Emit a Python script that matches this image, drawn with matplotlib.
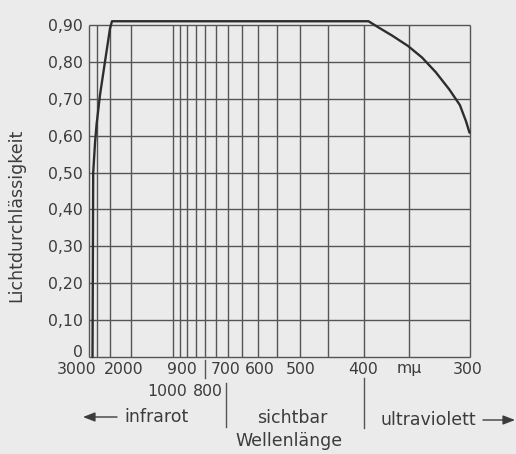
import matplotlib
matplotlib.use("Agg")
import matplotlib.pyplot as plt
from matplotlib.patches import FancyArrowPatch
from matplotlib.transforms import blended_transform_factory

# Wellenlaenge in m-mu, Lichtdurchlaessigkeit
wavelength = [2740, 2700, 2600, 2520, 2360, 2160, 1990, 1930,
              394, 382, 367, 351, 338, 326, 315, 307, 302.5, 300]
transmission = [0.0, 0.50, 0.58, 0.63, 0.71, 0.80, 0.89, 0.91,
                0.91, 0.893, 0.871, 0.843, 0.812, 0.772, 0.725, 0.683, 0.639, 0.608]

grid_wavelengths = [3000, 2500, 2000, 1500, 1000, 950, 900, 850, 800, 750,
                    700, 650, 600, 550, 500, 450, 400, 350, 300]
y_ticks = [0, 0.1, 0.2, 0.3, 0.4, 0.5, 0.6, 0.7, 0.8, 0.9]
y_labels = ["0", "0,10", "0,20", "0,30", "0,40", "0,50", "0,60", "0,70", "0,80", "0,90"]

# x tick labels: (value, text, row)
x_labels = [(3000, "3000", 1), (2000, "2000", 1), (1000, "1000", 2), (900, "900", 1),
            (800, "800", 2), (700, "700", 1), (600, "600", 1), (500, "500", 1),
            (400, "400", 1), (350, "m\u03bc", 1), (300, "300", 1)]
# horizontal nudges (pixels), the original sets the labels loosely
label_shift = {3000: -12, 2000: 14, 1000: -6, 900: -5, 800: 3, 700: -2,
               600: 2, 400: -1, 300: -2}

W, H = 516, 454
bg = "#ebebeb"
ink = "#3c3c3c"
line_col = "#555555"


def inv(lam):
    # the chart's axis is linear in 1/wavelength
    return 1000.0 / lam


fig = plt.figure(figsize=(W / 100, H / 100), dpi=100, facecolor=bg)
ax = fig.add_axes([88.5 / W, (H - 357) / H, 381 / W, 337.6 / H], facecolor=bg)
ax.set_xlim(inv(3000), inv(300))
ax.set_ylim(0, 0.915)
for s in ax.spines.values():
    s.set_visible(False)

# grid
ax.vlines([inv(w) for w in grid_wavelengths], 0, 0.9, color=line_col, lw=1.0, clip_on=False)
ax.hlines(y_ticks, inv(3000), inv(300), color=line_col, lw=1.0, clip_on=False)

# curve
ax.plot([inv(w) for w in wavelength], transmission, color="#2e2e2e", lw=1.7,
        solid_joinstyle="round", solid_capstyle="round", clip_on=False)

# y axis
ax.set_yticks(y_ticks)
ax.set_yticklabels(y_labels, fontsize=11.3, color=ink)
ax.tick_params(axis="y", length=0, pad=4)
ax.get_yticklabels()[0].set_verticalalignment("baseline")
ax.set_xticks([])

# x tick labels, placed in pixels below the axis
row_y = {1: 369, 2: 392}
for val, txt, row in x_labels:
    px = ax.transData.transform((inv(val), 0))[0] + label_shift.get(val, 0)
    fig.text(px / W, 1 - row_y[row] / H, txt, ha="center", va="center",
             fontsize=11.3, color=ink)

# small marks and dividers (x in data, y in inches from the bottom)
trans = blended_transform_factory(ax.transData, fig.dpi_scale_trans)
for lam, y0, y1 in [(800, 360, 378), (705, 383, 427), (400, 378, 428)]:
    ax.plot([inv(lam), inv(lam)], [(H - y0) / 100, (H - y1) / 100], transform=trans,
            color=line_col, lw=1.0, clip_on=False)

# range names
fig.text(157 / W, 1 - 417 / H, "infrarot", ha="center", va="center", fontsize=12.5, color=ink)
fig.text(292 / W, 1 - 418 / H, "sichtbar", ha="center", va="center", fontsize=12.5, color=ink)
fig.text(428 / W, 1 - 420 / H, "ultraviolett", ha="center", va="center", fontsize=12.5, color=ink)
fig.text(289 / W, 1 - 441 / H, "Wellenlänge", ha="center", va="center", fontsize=12.5, color=ink)
fig.text(16 / W, 1 - 215 / H, "Lichtdurchlässigkeit", ha="center", va="center",
         rotation=90, fontsize=12.5, color=ink)

arrow = dict(arrowstyle="-|>,head_length=0.9,head_width=0.35", mutation_scale=8,
             color=ink, lw=1.0, shrinkA=0, shrinkB=0, transform=fig.transFigure)
fig.add_artist(FancyArrowPatch((117 / W, 1 - 417 / H), (83 / W, 1 - 417 / H), **arrow))
fig.add_artist(FancyArrowPatch((483 / W, 1 - 420 / H), (515 / W, 1 - 420 / H), **arrow))

fig.savefig("out.png", dpi=100, facecolor=bg)
